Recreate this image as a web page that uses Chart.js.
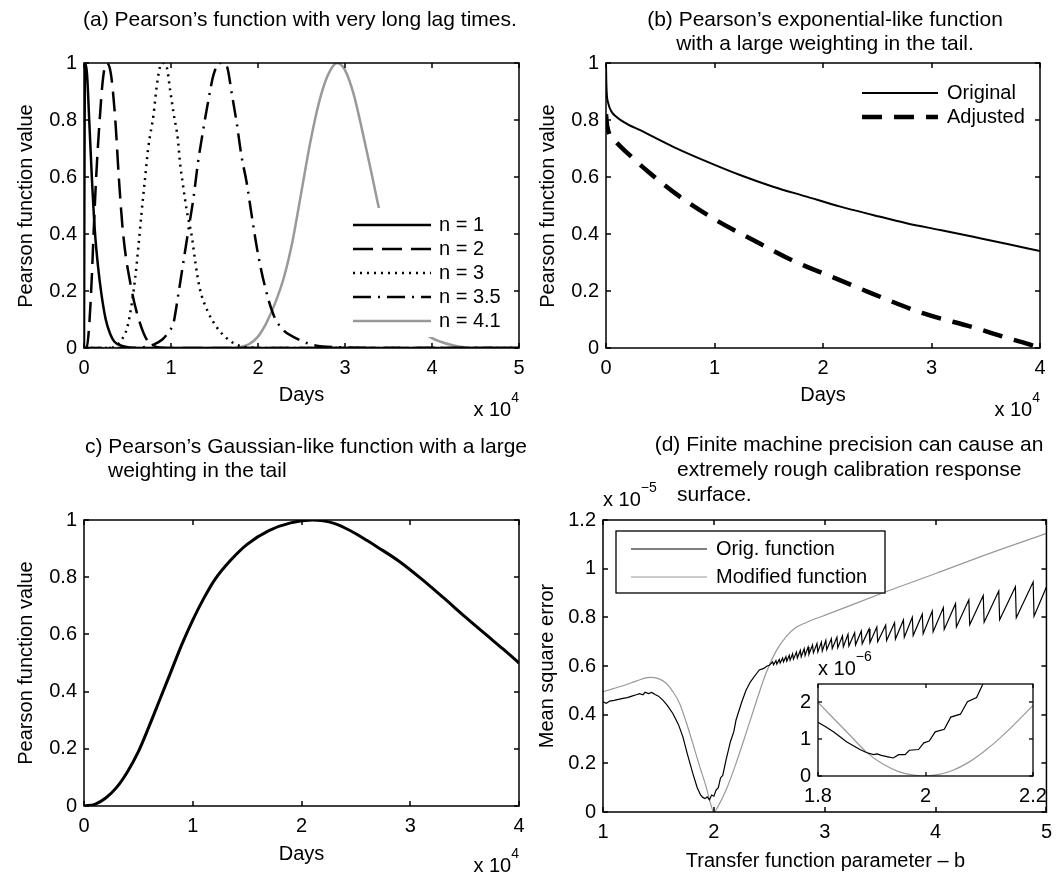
<!DOCTYPE html>
<html>
<head>
<meta charset="utf-8">
<title>Pearson functions</title>
<script src="https://cdn.jsdelivr.net/npm/chart.js@4.4.1/dist/chart.umd.min.js"></script>
<style>
  html, body { margin: 0; padding: 0; background: #fff; }
  #page { position: relative; width: 1060px; height: 874px; overflow: hidden;
          font-family: "Liberation Sans", Arial, Helvetica, sans-serif; color: #000; }
  #page canvas { position: absolute; left: 0; top: 0; }
  .t { position: absolute; white-space: nowrap; line-height: 1; }
  .sup { font-size: 14px; position: relative; top: -14px; }
</style>
</head>
<body>
<div id="page">
  <canvas id="ca" width="1060" height="874"></canvas>
  <canvas id="cb" width="1060" height="874"></canvas>
  <canvas id="cc" width="1060" height="874"></canvas>
  <canvas id="cd" width="1060" height="874"></canvas>
  <canvas id="ci" width="1060" height="874"></canvas>
</div>
<script>
// ---- data (x in units of 1e4 days for a-c, y of d in units of 1e-5, inset in 1e-6) ----

// (a) Pearson's function with very long lag times
var aN1 = [[0,0],[0.004,0.5],[0.012,1],[0.035,0.96],[0.06,0.8],[0.09,0.6],[0.125,0.41],[0.16,0.29],
  [0.2,0.19],[0.25,0.1],[0.3,0.05],[0.35,0.022],[0.45,0.006],[0.6,0],[5,0]];
var aN2 = [[0,0],[0.03,0],[0.06,0.08],[0.09,0.25],[0.11,0.4],[0.14,0.6],[0.18,0.8],[0.22,0.95],[0.26,1],
  [0.31,0.96],[0.36,0.8],[0.4,0.6],[0.45,0.4],[0.55,0.2],[0.63,0.1],[0.72,0.03],[0.83,0.004],[1,0],[5,0]];
var aN3 = [[0,0],[0.3,0],[0.38,0.01],[0.43,0.028],[0.49,0.065],[0.53,0.12],[0.586,0.24],[0.625,0.355],
  [0.66,0.47],[0.7,0.59],[0.74,0.706],[0.8,0.82],[0.835,0.916],[0.874,0.987],[0.91,1],[0.95,0.987],
  [0.99,0.905],[1.03,0.823],[1.08,0.73],[1.1,0.66],[1.14,0.567],[1.18,0.484],[1.24,0.39],[1.28,0.3],
  [1.33,0.21],[1.42,0.13],[1.52,0.075],[1.62,0.04],[1.75,0.012],[1.9,0.002],[2.1,0],[5,0]];
var aN35 = [[0,0],[0.5,0],[0.7,0.004],[0.8,0.012],[0.9,0.03],[0.97,0.055],[1.03,0.09],[1.08,0.18],
  [1.14,0.297],[1.2,0.414],[1.26,0.53],[1.31,0.65],[1.37,0.765],[1.43,0.87],[1.49,0.96],[1.56,1],
  [1.64,0.99],[1.7,0.89],[1.755,0.79],[1.81,0.674],[1.87,0.58],[1.93,0.46],[2,0.33],[2.08,0.216],
  [2.18,0.115],[2.3,0.06],[2.4,0.04],[2.64,0.01],[3,0.002],[3.3,0],[5,0]];
var aN41 = [[0,0],[1.7,0],[1.8,0.004],[1.9,0.014],[2,0.04],[2.1,0.09],[2.2,0.16],[2.3,0.25],[2.4,0.38],
  [2.5,0.55],[2.6,0.72],[2.7,0.86],[2.8,0.955],[2.91,1],[3,0.975],[3.1,0.89],[3.2,0.76],[3.3,0.62],
  [3.39,0.49],[3.5,0.35],[3.6,0.24],[3.7,0.16],[3.8,0.1],[3.95,0.045],[4.1,0.022],[4.25,0.009],
  [4.4,0.002],[4.6,0],[5,0]];

// (b) exponential-like function
var bOrig = [[0,1],[0.002,0.95],[0.006,0.9],[0.02,0.86],[0.05,0.83],[0.1,0.81],[0.2,0.785],[0.31,0.765],
  [0.62,0.706],[0.93,0.654],[1.235,0.607],[1.54,0.566],[1.85,0.531],[2.16,0.496],[2.46,0.467],
  [2.77,0.438],[3.08,0.414],[3.385,0.39],[3.7,0.365],[4,0.34]];
var bAdj = [[0,0.82],[0.01,0.78],[0.1,0.72],[0.2,0.683],[0.4,0.615],[0.68,0.531],[1,0.452],[1.36,0.378],
  [1.73,0.305],[2.08,0.25],[2.46,0.19],[2.92,0.122],[3.39,0.072],[3.7,0.035],[3.94,0.008],[4,0]];

// (c) Gaussian-like function
var cData = [[0,0],[0.1,0.006],[0.2,0.028],[0.3,0.065],[0.4,0.12],[0.5,0.19],[0.6,0.28],[0.7,0.375],
  [0.8,0.47],[0.9,0.565],[1,0.65],[1.1,0.725],[1.2,0.79],[1.35,0.86],[1.5,0.915],[1.7,0.963],
  [1.9,0.99],[2.1,1],[2.2,0.997],[2.3,0.988],[2.4,0.972],[2.5,0.952],[2.6,0.929],[2.7,0.905],
  [2.9,0.855],[3.1,0.795],[3.3,0.73],[3.5,0.663],[3.7,0.598],[3.85,0.55],[4,0.5]];

// (d) calibration response, mean square error (x 1e-5)
var dOrig = [[1,0.453],[1.03,0.447],[1.06,0.456],[1.1,0.459],[1.14,0.463],[1.18,0.467],[1.22,0.47],
  [1.26,0.476],[1.3,0.482],[1.33,0.486],[1.36,0.482],[1.38,0.492],[1.41,0.487],[1.44,0.491],
  [1.47,0.483],[1.5,0.476],[1.54,0.46],[1.58,0.438],[1.63,0.405],[1.68,0.36],[1.72,0.31],[1.76,0.24],
  [1.81,0.159],[1.85,0.1],[1.88,0.07],[1.9,0.06],[1.92,0.055],[1.94,0.062],[1.96,0.05],[1.98,0.07],
  [2,0.065],[2.02,0.09],[2.04,0.1],[2.06,0.14],[2.08,0.15],[2.11,0.214],[2.15,0.29],[2.18,0.33],
  [2.2,0.378],[2.25,0.45],[2.29,0.5],[2.33,0.535],[2.37,0.56],[2.41,0.584],[2.45,0.59],[2.48,0.6],
  [2.5,0.603],
  [2.53,0.617],[2.538,0.605],[2.56,0.622],[2.568,0.608],[2.59,0.627],[2.598,0.612],[2.62,0.633],
  [2.628,0.617],[2.65,0.638],[2.658,0.62],[2.68,0.644],[2.688,0.624],[2.71,0.65],[2.718,0.628],
  [2.745,0.657],[2.753,0.633],[2.78,0.664],[2.788,0.638],[2.815,0.671],[2.823,0.643],[2.85,0.678],
  [2.858,0.648],[2.89,0.686],[2.898,0.654],[2.93,0.692],[2.938,0.658],[2.97,0.698],[2.978,0.662],
  [3.01,0.705],[3.018,0.667],[3.06,0.712],[3.068,0.672],[3.11,0.718],[3.118,0.675],[3.16,0.724],
  [3.168,0.679],[3.21,0.73],[3.218,0.682],[3.27,0.737],[3.278,0.687],[3.33,0.744],[3.338,0.691],
  [3.4,0.752],[3.408,0.696],[3.47,0.76],[3.478,0.7],[3.55,0.768],[3.558,0.705],[3.63,0.778],
  [3.638,0.711],[3.71,0.789],[3.718,0.718],[3.79,0.8],[3.798,0.725],[3.88,0.813],[3.888,0.733],
  [3.97,0.826],[3.978,0.741],[4.07,0.84],[4.078,0.75],[4.18,0.856],[4.188,0.76],[4.3,0.872],
  [4.308,0.77],[4.43,0.89],[4.438,0.78],[4.57,0.908],[4.578,0.79],[4.72,0.926],[4.728,0.798],
  [4.88,0.945],[4.888,0.805],[5,0.925]];
var dMod = [[1,0.494],[1.1,0.508],[1.2,0.522],[1.3,0.538],[1.42,0.553],[1.5,0.548],[1.57,0.529],
  [1.63,0.495],[1.69,0.447],[1.75,0.37],[1.81,0.282],[1.87,0.19],[1.93,0.104],[1.97,0.035],[2,0],
  [2.04,0.025],[2.11,0.09],[2.2,0.2],[2.29,0.323],[2.38,0.45],[2.47,0.57],[2.56,0.66],[2.65,0.72],
  [2.74,0.758],[2.83,0.778],[2.92,0.795],[3.01,0.81],[3.55,0.905],[4,0.98],[4.5,1.065],[5,1.145]];

// inset of (d), zoom on b = 1.8 .. 2.2 (x 1e-6)
var iOrig = [[1.8,1.46],[1.815,1.33],[1.83,1.19],[1.853,0.93],[1.878,0.72],[1.89,0.64],[1.903,0.58],
  [1.91,0.6],[1.918,0.56],[1.93,0.52],[1.94,0.49],[1.95,0.58],[1.962,0.58],[1.97,0.7],[1.987,0.72],
  [1.997,0.9],[2.007,0.95],[2.018,1.2],[2.035,1.27],[2.047,1.6],[2.065,1.68],[2.078,2.02],
  [2.095,2.13],[2.11,2.6]];
var iMod = [[1.8,2],[1.83,1.55],[1.86,1.1],[1.89,0.65],[1.92,0.33],[1.95,0.12],[1.975,0.03],[1.995,0],
  [2.02,0.03],[2.05,0.15],[2.08,0.37],[2.11,0.68],[2.14,1.05],[2.17,1.47],[2.2,1.92]];

var legA = ['n = 1', 'n = 2', 'n = 3', 'n = 3.5', 'n = 4.1'];
var legB = ['Original', 'Adjusted'];
var legD = ['Orig. function', 'Modified function'];

// ---- drawing ----
var FONT = '"Liberation Sans", Arial, Helvetica, sans-serif';
var W = 1060, H = 874;
Chart.defaults.font.family = FONT;
Chart.defaults.font.size = 20;
Chart.defaults.color = '#000';

function pts(arr) { return arr.map(function (p) { return { x: p[0], y: p[1] }; }); }

function line(ctx, x0, y0, x1, y1) {
  ctx.beginPath(); ctx.moveTo(x0, y0); ctx.lineTo(x1, y1); ctx.stroke();
}

// matlab style box: ticks inside on all four sides, optional legend with white background
var mbox = {
  id: 'mbox',
  beforeDatasetsDraw: function (chart, args, o) {
    if (!o.fill) return;
    var a = chart.chartArea, ctx = chart.ctx;
    ctx.save(); ctx.fillStyle = '#fff';
    ctx.fillRect(a.left, a.top, a.right - a.left, a.bottom - a.top);
    ctx.restore();
  },
  afterDatasetsDraw: function (chart, args, o) {
    var ctx = chart.ctx, a = chart.chartArea;
    ctx.save();
    var L = o.legend;
    if (L) {
      ctx.fillStyle = '#fff';
      ctx.fillRect(L.box[0], L.box[1], L.box[2] - L.box[0], L.box[3] - L.box[1]);
      if (L.border) {
        ctx.strokeStyle = '#000'; ctx.lineWidth = 1.3;
        ctx.strokeRect(L.box[0], L.box[1], L.box[2] - L.box[0], L.box[3] - L.box[1]);
      }
      chart.data.datasets.forEach(function (ds, i) {
        var y = L.y0 + i * L.step;
        ctx.strokeStyle = ds.borderColor; ctx.lineWidth = ds.borderWidth;
        ctx.setLineDash(ds.borderDash || []);
        line(ctx, L.x0, y, L.x1, y);
        ctx.setLineDash([]);
        ctx.fillStyle = '#000'; ctx.font = L.size + 'px ' + FONT;
        ctx.textBaseline = 'middle'; ctx.textAlign = 'left';
        ctx.fillText(ds.label, L.tx, y);
      });
    }
    ctx.strokeStyle = '#000'; ctx.lineWidth = o.lw || 1.5; ctx.setLineDash([]);
    ctx.strokeRect(a.left, a.top, a.right - a.left, a.bottom - a.top);
    var tl = o.tick || 5, xs = chart.scales.x, ys = chart.scales.y;
    xs.ticks.forEach(function (t) {
      var px = Math.round(xs.getPixelForValue(t.value));
      line(ctx, px, a.bottom, px, a.bottom - tl);
      line(ctx, px, a.top, px, a.top + tl);
    });
    ys.ticks.forEach(function (t) {
      var py = Math.round(ys.getPixelForValue(t.value));
      line(ctx, a.left, py, a.left + tl, py);
      line(ctx, a.right, py, a.right - tl, py);
    });
    ctx.restore();
  }
};

function axis(r, horiz, bounds) {
  return {
    type: 'linear', min: r[0], max: r[1],
    grid: { display: false, drawTicks: false },
    border: { display: false },
    ticks: { stepSize: r[2], padding: horiz ? 8 : 7, maxRotation: 0, autoSkip: false,
             includeBounds: bounds !== false,
             font: { size: 20 }, color: '#000',
             callback: function (v) { return String(Math.round(v * 1000) / 1000); } },
    afterFit: function (s) { if (horiz) s.height = 40; else s.width = 60; }
  };
}

// area = [left, right, top, bottom] of the plot box in page pixels
function panel(id, area, xr, yr, datasets, box, yBounds) {
  return new Chart(document.getElementById(id), {
    type: 'line',
    data: { datasets: datasets },
    options: {
      responsive: false, animation: false, devicePixelRatio: 1, events: [],
      layout: { padding: { left: area[0] - 60, top: area[2], right: W - area[1], bottom: H - area[3] - 40 } },
      scales: { x: axis(xr, true), y: axis(yr, false, yBounds) },
      elements: { point: { radius: 0 }, line: { fill: false } },
      plugins: { legend: { display: false }, tooltip: { enabled: false }, mbox: box }
    },
    plugins: [mbox]
  });
}

function ser(label, arr, color, width, dash, smooth) {
  return { label: label, data: pts(arr), borderColor: color, borderWidth: width,
           borderDash: dash || [], cubicInterpolationMode: smooth ? 'monotone' : 'default', tension: 0 };
}

var GRAY = '#999999';

panel('ca', [84, 519, 63, 348], [0, 5, 1], [0, 1, 0.2], [
  ser(legA[0], aN1, '#000', 2.5, [], true),
  ser(legA[1], aN2, '#000', 2.5, [20, 9], true),
  ser(legA[2], aN3, '#000', 2.5, [2, 5], true),
  ser(legA[3], aN35, '#000', 2.5, [18, 7, 2, 7], true),
  ser(legA[4], aN41, GRAY, 2.5, [], true)
], { legend: { box: [345, 208, 518, 337], x0: 353, x1: 431, tx: 439, y0: 225, step: 24, size: 20 } });

panel('cb', [606, 1040, 63, 348], [0, 4, 1], [0, 1, 0.2], [
  ser(legB[0], bOrig, '#000', 2, [], true),
  ser(legB[1], bAdj, '#000', 4.5, [20, 12], true)
], { legend: { box: [852, 78, 1038, 131], x0: 862, x1: 938, tx: 947, y0: 93, step: 24, size: 20 } });

panel('cc', [84, 519, 520, 806], [0, 4, 1], [0, 1, 0.2], [
  ser('Pearson', cData, '#000', 3, [], true)
], {});

panel('cd', [603, 1048, 520, 812], [1, 5, 1], [0, 1.2, 0.2], [
  ser(legD[0], dOrig, '#000', 1.2, [], false),
  ser(legD[1], dMod, GRAY, 1.2, [], true)
], { legend: { box: [616, 531, 885, 593], border: true, x0: 631, x1: 707, tx: 716, y0: 549, step: 28, size: 20 } });

panel('ci', [818, 1033, 684, 776], [1.8, 2.2, 0.2], [0, 2.5, 1], [
  ser(legD[0], iOrig, '#000', 1.2, [], false),
  ser(legD[1], iMod, GRAY, 1.2, [], true)
], { fill: true, lw: 1.3, tick: 4 }, false);

// ---- text ----
var page = document.getElementById('page');
function put(html, x, base, size, align) {
  var d = document.createElement('div');
  d.className = 't'; d.innerHTML = html; d.style.fontSize = size + 'px';
  d.style.left = x + 'px'; d.style.top = (base - 0.8465 * size) + 'px';
  if (align === 'center') d.style.transform = 'translateX(-50%)';
  if (align === 'right') d.style.transform = 'translateX(-100%)';
  page.appendChild(d);
}
function putV(text, bx, cy, size) {
  var d = document.createElement('div');
  d.className = 't'; d.textContent = text; d.style.fontSize = size + 'px';
  d.style.left = bx + 'px'; d.style.top = cy + 'px'; d.style.transformOrigin = '0 0';
  d.style.transform = 'rotate(-90deg) translate(-50%, ' + (-0.8465 * size) + 'px)';
  page.appendChild(d);
}

put('(a) Pearson’s function with very long lag times.', 83, 26, 21, 'left');
put('(b) Pearson’s exponential-like function', 825, 26, 21, 'center');
put('with a large weighting in the tail.', 825, 50, 21, 'center');
put('c) Pearson’s Gaussian-like function with a large', 85, 453, 21, 'left');
put('weighting in the tail', 108, 477, 21, 'left');
put('(d) Finite machine precision can cause an', 849, 451, 21, 'center');
put('extremely rough calibration response', 677, 476, 21, 'left');
put('surface.', 677, 501, 21, 'left');

put('Days', 301.5, 401, 20, 'center');
put('Days', 823, 401, 20, 'center');
put('Days', 301.5, 860, 20, 'center');
put('Transfer function parameter – b', 825.5, 867, 20, 'center');
putV('Pearson function value', 32, 205.5, 20);
putV('Pearson function value', 554, 205.5, 20);
putV('Pearson function value', 32, 663, 20);
putV('Mean square error', 553, 666, 20);

put('x 10<span class="sup">4</span>', 519, 416, 20, 'right');
put('x 10<span class="sup">4</span>', 1040, 416, 20, 'right');
put('x 10<span class="sup">4</span>', 519, 872, 20, 'right');
put('x 10<span class="sup">−5</span>', 603, 506, 20, 'left');
put('x 10<span class="sup">−6</span>', 818, 675, 20, 'left');
</script>
</body>
</html>
